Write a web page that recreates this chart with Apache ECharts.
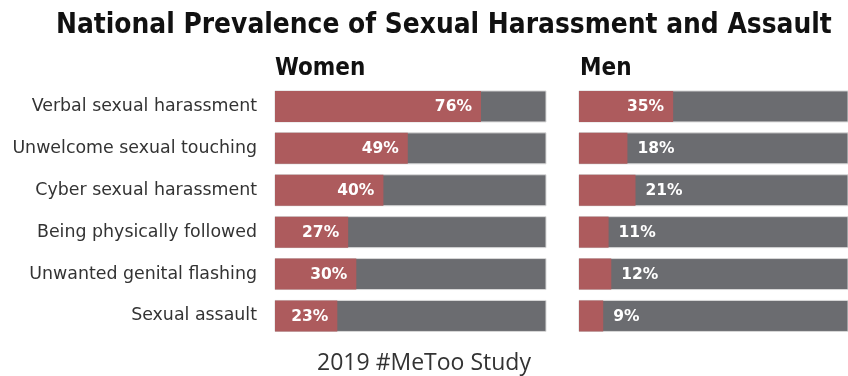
<!DOCTYPE html>
<html>
<head>
<meta charset="utf-8">
<script src="https://cdn.jsdelivr.net/npm/echarts@6/dist/echarts.min.js"></script>
<style>
  html, body { margin: 0; padding: 0; background: #fff; }
  #chart { width: 848px; height: 376px; }
</style>
</head>
<body>
<div id="chart"></div>
<script>
// Survey items and the share of respondents reporting each, by gender
const categories = [
  'Verbal sexual harassment',
  'Unwelcome sexual touching',
  'Cyber sexual harassment',
  'Being physically followed',
  'Unwanted genital flashing',
  'Sexual assault'
];
const womenValues = [76, 49, 40, 27, 30, 23];
const menValues = [35, 18, 21, 11, 12, 9];

const RED = '#ad5b5d';
const GREY = '#6b6c70';
const labelFont = 'DejaVu Sans';

// Values too short to hold their label inside the red bar get it placed just past the bar end
function barData(values, insideMin) {
  return values.map(v => ({
    value: v,
    label: v >= insideMin
      ? { position: 'insideRight', offset: [-4, 1] }
      : { position: 'right', offset: [5, 1] }
  }));
}

function barSeries(values, idx, insideMin) {
  return {
    type: 'bar',
    xAxisIndex: idx,
    yAxisIndex: idx,
    data: barData(values, insideMin),
    barWidth: 31,
    itemStyle: { color: RED },
    showBackground: true,
    backgroundStyle: { color: GREY, borderColor: '#d9d9d9', borderWidth: 1 },
    label: {
      show: true,
      formatter: '{c}%',
      color: '#fff',
      fontFamily: labelFont,
      fontWeight: 'bold',
      fontSize: 15.5
    },
    silent: true,
    animation: false
  };
}

const headStyle = { fontFamily: 'DejaVu Sans Condensed', fontWeight: 'bold', fontSize: 24, color: '#111' };

const chart = echarts.init(document.getElementById('chart'), null, { renderer: 'canvas' });
chart.setOption({
  animation: false,
  title: [
    {
      text: 'National Prevalence of Sexual Harassment and Assault',
      left: 56,
      top: 12,
      padding: 0,
      textStyle: { fontFamily: 'DejaVu Sans Condensed', fontWeight: 'bold', fontSize: 27.8, color: '#111' }
    },
    { text: 'Women', left: 275, top: 57, padding: 0, textStyle: headStyle },
    { text: 'Men', left: 580, top: 57, padding: 0, textStyle: headStyle },
    {
      text: '2019 #MeToo Study',
      left: 'center',
      top: 347,
      textStyle: { fontFamily: 'Open Sans', fontWeight: 'normal', fontSize: 23, color: '#333' }
    }
  ],
  grid: [
    { left: 275, top: 85.5, width: 271, height: 251.4 },
    { left: 579, top: 85.5, width: 274, height: 251.4 }
  ],
  xAxis: [
    { type: 'value', gridIndex: 0, min: 0, max: 100, show: false },
    { type: 'value', gridIndex: 1, min: 0, max: 100, show: false }
  ],
  yAxis: [
    {
      type: 'category', gridIndex: 0, data: categories, inverse: true,
      axisLine: { show: false }, axisTick: { show: false },
      axisLabel: { margin: 18, fontFamily: 'DejaVu Sans', fontSize: 17.4, color: '#333' }
    },
    {
      type: 'category', gridIndex: 1, data: categories, inverse: true,
      axisLine: { show: false }, axisTick: { show: false }, axisLabel: { show: false }
    }
  ],
  series: [
    barSeries(womenValues, 0, 0),
    barSeries(menValues, 1, 30)
  ]
});
</script>
</body>
</html>
